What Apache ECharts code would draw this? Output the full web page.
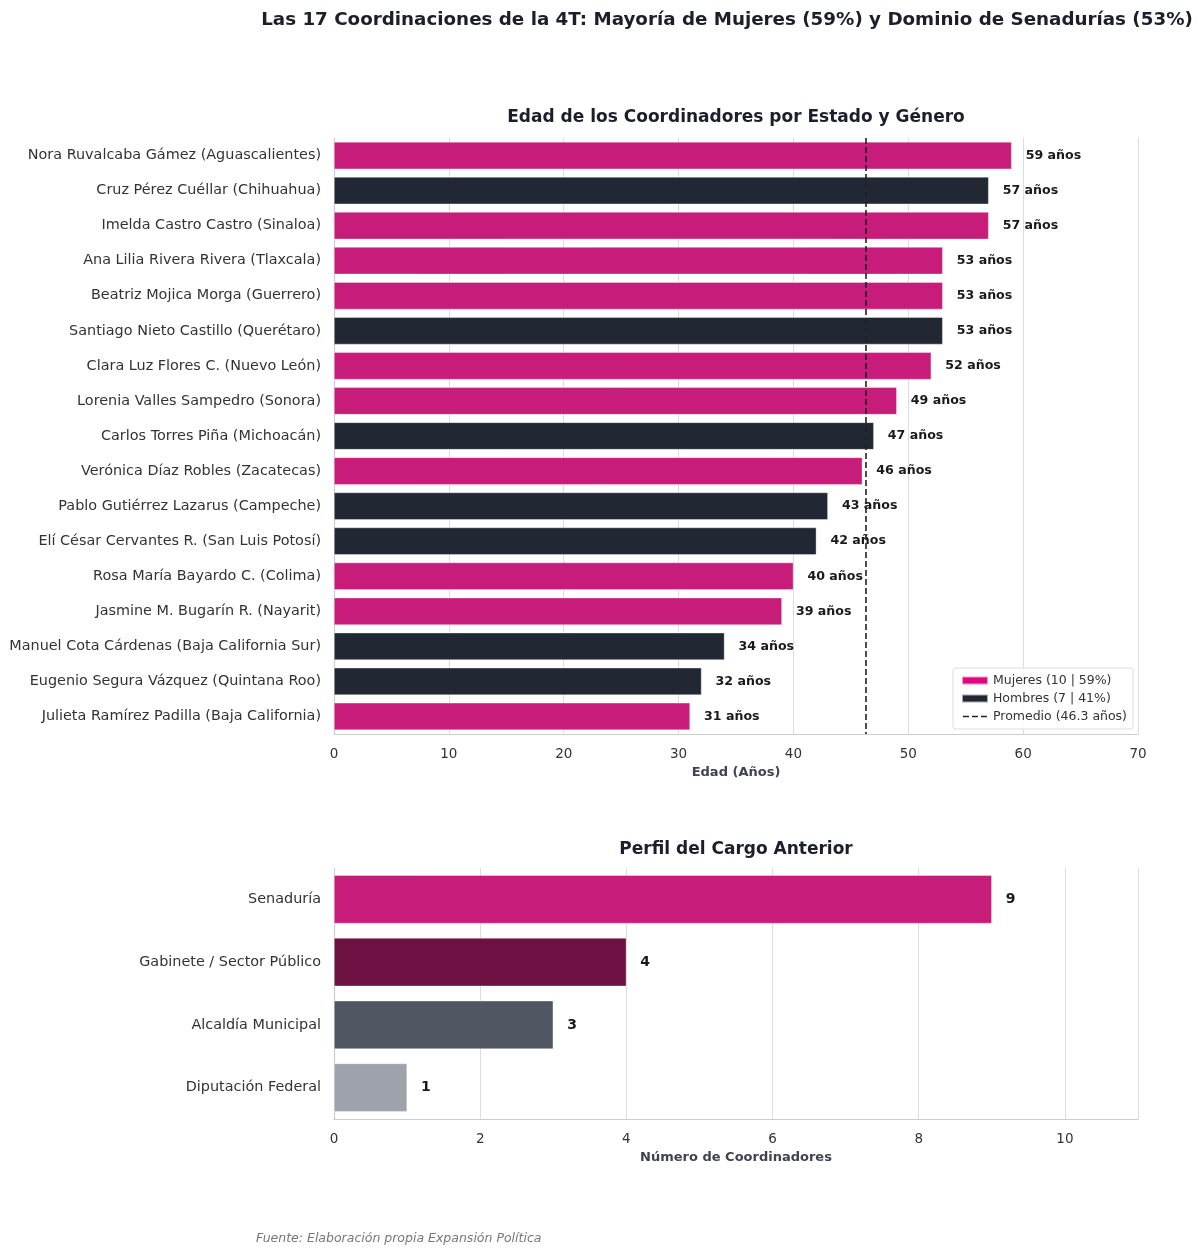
<!DOCTYPE html>
<html>
<head>
<meta charset="utf-8">
<title>Coordinaciones 4T</title>
<script src="https://cdn.jsdelivr.net/npm/echarts@6/dist/echarts.min.js"></script>
<style>
  html, body { margin: 0; padding: 0; background: #fff; }
  #chart { width: 1200px; height: 1252px; }
</style>
</head>
<body>
<div id="chart"></div>
<script>
// coordinadores, de arriba a abajo
var nombres = [
  'Nora Ruvalcaba Gámez (Aguascalientes)',
  'Cruz Pérez Cuéllar (Chihuahua)',
  'Imelda Castro Castro (Sinaloa)',
  'Ana Lilia Rivera Rivera (Tlaxcala)',
  'Beatriz Mojica Morga (Guerrero)',
  'Santiago Nieto Castillo (Querétaro)',
  'Clara Luz Flores C. (Nuevo León)',
  'Lorenia Valles Sampedro (Sonora)',
  'Carlos Torres Piña (Michoacán)',
  'Verónica Díaz Robles (Zacatecas)',
  'Pablo Gutiérrez Lazarus (Campeche)',
  'Elí César Cervantes R. (San Luis Potosí)',
  'Rosa María Bayardo C. (Colima)',
  'Jasmine M. Bugarín R. (Nayarit)',
  'Manuel Cota Cárdenas (Baja California Sur)',
  'Eugenio Segura Vázquez (Quintana Roo)',
  'Julieta Ramírez Padilla (Baja California)'
];
var edades = [59, 57, 57, 53, 53, 53, 52, 49, 47, 46, 43, 42, 40, 39, 34, 32, 31];
var genero = ['M', 'H', 'M', 'M', 'M', 'H', 'M', 'M', 'H', 'M', 'H', 'H', 'M', 'M', 'H', 'H', 'M'];
var promedio = 46.3;

var cargos = ['Senaduría', 'Gabinete / Sector Público', 'Alcaldía Municipal', 'Diputación Federal'];
var cargosValores = [9, 4, 3, 1];
var cargosColores = ['#C71C7A', '#6D1042', '#4F5561', '#9EA2AB'];

var ROSA = '#C71C7A', AZUL = '#222833';
var FONT = 'DejaVu Sans';

var mujeres = edades.map(function (v, i) { return genero[i] === 'M' ? v : '-'; });
var hombres = edades.map(function (v, i) { return genero[i] === 'H' ? v : '-'; });

var etiqueta = {
  show: true, position: 'right', distance: 14,
  formatter: '{c} años', fontFamily: FONT, fontSize: 12.6, fontWeight: 'bold', color: '#1a1a1a'
};

var myChart = echarts.init(document.getElementById('chart'));
var option = {
  backgroundColor: '#fff',
  animation: false,
  textStyle: { fontFamily: FONT },
  title: [
    { text: 'Las 17 Coordinaciones de la 4T: Mayoría de Mujeres (59%) y Dominio de Senadurías (53%)',
      left: 722, top: 6, textAlign: 'center',
      textStyle: { fontFamily: FONT, fontSize: 18.3, fontWeight: 'bold', color: '#1a1f2b' } },
    { text: 'Edad de los Coordinadores por Estado y Género',
      left: 731, top: 104, textAlign: 'center',
      textStyle: { fontFamily: FONT, fontSize: 17, fontWeight: 'bold', color: '#1a1f2b' } },
    { text: 'Perfil del Cargo Anterior',
      left: 731, top: 836, textAlign: 'center',
      textStyle: { fontFamily: FONT, fontSize: 17, fontWeight: 'bold', color: '#1a1f2b' } },
    { text: 'Fuente: Elaboración propia Expansión Política',
      left: 251, top: 1227,
      textStyle: { fontFamily: FONT, fontSize: 12.5, fontStyle: 'italic', fontWeight: 'normal', color: '#777' } }
  ],
  legend: {
    orient: 'vertical', right: 67, top: 668,
    itemWidth: 26, itemHeight: 8, itemGap: 5,
    padding: [6, 6, 6, 8],
    borderColor: '#ddd', borderWidth: 1, borderRadius: 3,
    backgroundColor: 'rgba(255,255,255,0.85)',
    textStyle: { fontFamily: FONT, fontSize: 12.5, color: '#333' },
    data: [
      { name: 'Mujeres (10 | 59%)', icon: 'rect', itemStyle: { color: '#E0067F' } },
      { name: 'Hombres (7 | 41%)', icon: 'rect', itemStyle: { color: AZUL } },
      { name: 'Promedio (46.3 años)',
        icon: 'path://M0,0h0.01v0.01h-0.01z M0,3.2h6v1.6h-6z M9,3.2h6v1.6h-6z M18,3.2h6v1.6h-6z M24,8h0.01v0.01h-0.01z',
        itemStyle: { color: '#222' } }
    ]
  },
  grid: [
    { left: 334, top: 138, width: 804, height: 596 },
    { left: 334, top: 868, width: 804, height: 251 }
  ],
  xAxis: [
    { type: 'value', gridIndex: 0, min: 0, max: 70, interval: 10,
      name: 'Edad (Años)', nameLocation: 'middle', nameGap: 32,
      nameTextStyle: { fontFamily: FONT, fontSize: 13, fontWeight: 'bold', color: '#3d4350' },
      axisLine: { show: true, lineStyle: { color: '#ccc', width: 1.2 } },
      axisTick: { show: false },
      axisLabel: { fontFamily: FONT, fontSize: 13.5, color: '#333', margin: 13 },
      splitLine: { show: true, lineStyle: { color: '#ddd', width: 1 } } },
    { type: 'value', gridIndex: 1, min: 0, max: 11, interval: 2,
      name: 'Número de Coordinadores', nameLocation: 'middle', nameGap: 32,
      nameTextStyle: { fontFamily: FONT, fontSize: 13, fontWeight: 'bold', color: '#3d4350' },
      axisLine: { show: true, lineStyle: { color: '#ccc', width: 1.2 } },
      axisTick: { show: false },
      axisLabel: { fontFamily: FONT, fontSize: 13.5, color: '#333', margin: 13,
        showMaxLabel: false },
      splitLine: { show: true, lineStyle: { color: '#ddd', width: 1 } } }
  ],
  yAxis: [
    { type: 'category', gridIndex: 0, data: nombres, inverse: true,
      axisLine: { show: true, lineStyle: { color: '#ccc', width: 1.2 } },
      axisTick: { show: false },
      axisLabel: { fontFamily: FONT, fontSize: 14.4, color: '#333', margin: 13 } },
    { type: 'category', gridIndex: 1, data: cargos, inverse: true,
      axisLine: { show: true, lineStyle: { color: '#ccc', width: 1.2 } },
      axisTick: { show: false },
      axisLabel: { fontFamily: FONT, fontSize: 14.4, color: '#333', margin: 13 } }
  ],
  series: [
    { name: 'Mujeres (10 | 59%)', type: 'bar', xAxisIndex: 0, yAxisIndex: 0,
      stack: 'edad', barCategoryGap: '22%', data: mujeres,
      itemStyle: { color: ROSA, borderColor: 'rgba(255,255,255,0.6)', borderWidth: 0.6 },
      label: etiqueta },
    { name: 'Hombres (7 | 41%)', type: 'bar', xAxisIndex: 0, yAxisIndex: 0,
      stack: 'edad', barCategoryGap: '22%', data: hombres,
      itemStyle: { color: AZUL, borderColor: 'rgba(255,255,255,0.6)', borderWidth: 0.6 },
      label: etiqueta },
    { name: 'Promedio (46.3 años)', type: 'line', xAxisIndex: 0, yAxisIndex: 0,
      data: [], itemStyle: { color: '#222' }, z: 5,
      markLine: {
        silent: true, symbol: 'none', label: { show: false },
        lineStyle: { color: '#222', type: [6, 3], width: 1.6 },
        data: [{ xAxis: promedio }]
      } },
    { name: 'Cargo', type: 'bar', xAxisIndex: 1, yAxisIndex: 1,
      barCategoryGap: '23%',
      data: cargosValores.map(function (v, i) {
        return { value: v, itemStyle: { color: cargosColores[i] } };
      }),
      itemStyle: { borderColor: 'rgba(255,255,255,0.6)', borderWidth: 0.6 },
      label: { show: true, position: 'right', distance: 14,
        fontFamily: FONT, fontSize: 14, fontWeight: 'bold', color: '#1a1a1a' } }
  ]
};
myChart.setOption(option);
</script>
</body>
</html>
